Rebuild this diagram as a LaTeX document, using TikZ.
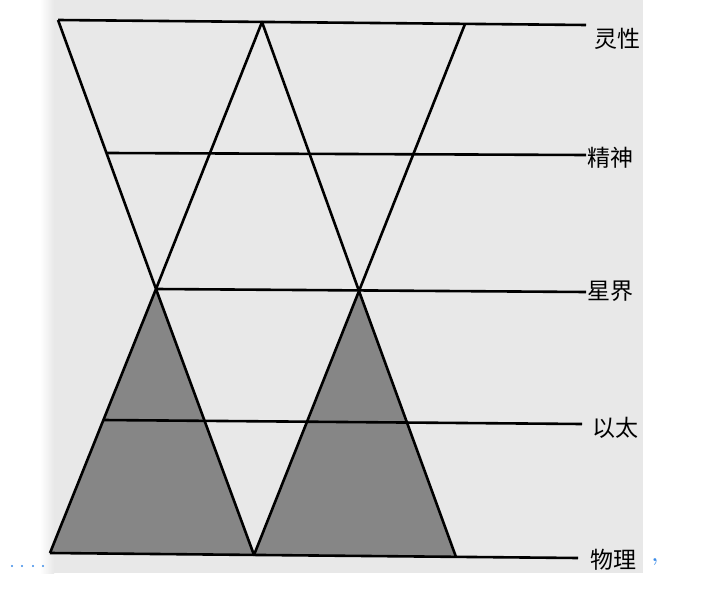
\documentclass[tikz,border=0pt]{standalone}
\usepackage{fontspec}
\newfontfamily\cjk{Noto Sans CJK SC}
\usetikzlibrary{positioning}
\definecolor{scan}{HTML}{E8E8E8}
\definecolor{stipple}{HTML}{868686}
\definecolor{marker}{HTML}{3A8BE8}

\begin{document}
\begin{tikzpicture}[x=1pt,y=-1pt,
    layer/.style={font=\cjk\fontsize{23}{26}\selectfont, anchor=west, inner sep=0pt},
    edge/.style={line width=2.6pt, line join=round}]
        \useasboundingbox (0,0) rectangle (720,604);
        \fill[scan] (54,0) rectangle (643,573);
        \shade[left color=white, right color=scan] (40,0) rectangle (54,573);

        % layer names
        \node[layer] (lingxing) at (594,39) {灵性};
        \node[layer] (jingshen) at (587,158) {精神};
        \node[layer] (xingjie) at (587,291) {星界};
        \node[layer] (yitai) at (592,428) {以太};
        \node[layer] (wuli) at (590,560) {物理};

        % corners of the triangles
        \coordinate (t1) at (58,20);
        \coordinate (t2) at (262,22);
        \coordinate (t3) at (465,24);
        \coordinate (a1) at (156,289);
        \coordinate (a2) at (359,291);
        \coordinate (b1) at (50,553);
        \coordinate (b2) at (254,555);
        \coordinate (b3) at (456,557);

        % ends of the level lines
        \coordinate (e1) at (586,25);
        \coordinate (s2) at (107,153);
        \coordinate (e2) at (586,155);
        \coordinate (e3) at (586,292);
        \coordinate (s4) at (103,420);
        \coordinate (e4) at (582,424);
        \coordinate (e5) at (578,558);

        \fill[stipple] (a1) -- (b1) -- (b2) -- cycle;
        \fill[stipple] (a2) -- (b2) -- (b3) -- cycle;

        \draw[edge] (t1) -- (a1) -- (t2) -- (a2) -- (t3);
        \draw[edge] (a1) -- (b1);
        \draw[edge] (a1) -- (b2) -- (a2) -- (b3);
        \draw[edge] (t1) -- (e1);
        \draw[edge] (s2) -- (e2);
        \draw[edge] (a1) -- (e3);
        \draw[edge] (s4) -- (e4);
        \draw[edge] (b1) -- (e5);

        % marks of the page
        \foreach \x in {12,22,33,43}
          \fill[marker] (\x,566) circle (1.1pt);
        \node[text=marker, font=\bfseries\fontsize{20}{20}\selectfont, inner sep=0pt] (comma) at (655,562) {,};
    \end{tikzpicture}
\end{document}
